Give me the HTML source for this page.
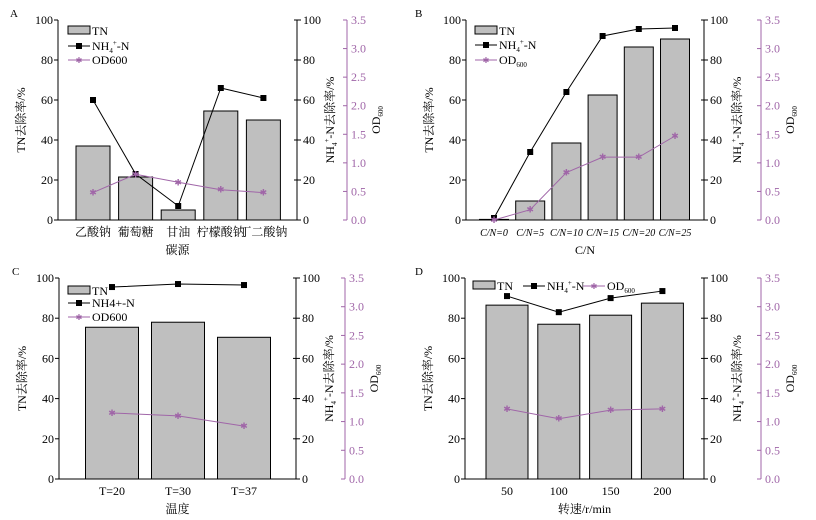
<!DOCTYPE html>
<html><head><meta charset="utf-8">
<style>
body{margin:0;background:#fff;}
svg{display:block;font-family:"Liberation Serif","Noto Serif CJK SC",serif;}
</style></head>
<body>
<svg id="fig" width="816" height="520" viewBox="0 0 816 520" xmlns="http://www.w3.org/2000/svg"></svg>
<script>
// Panel A
const catsA = ["乙酸钠","葡萄糖","甘油","柠檬酸钠","丁二酸钠"];
const tnA = [37, 21.5, 5, 54.5, 50];
const nhA = [60, 23, 7, 66, 61];
const odA = [0.48, 0.8, 0.66, 0.53, 0.48];
// Panel B
const catsB = ["C/N=0","C/N=5","C/N=10","C/N=15","C/N=20","C/N=25"];
const tnB = [0.3, 9.5, 38.5, 62.5, 86.5, 90.5];
const nhB = [1, 34, 64, 92, 95.5, 96];
const odB = [0, 0.18, 0.83, 1.1, 1.1, 1.47];
// Panel C
const catsC = ["T=20","T=30","T=37"];
const tnC = [75.5, 78, 70.5];
const nhC = [95.5, 97, 96.5];
const odC = [1.15, 1.1, 0.92];
// Panel D
const catsD = ["50","100","150","200"];
const tnD = [86.5, 77, 81.5, 87.5];
const nhD = [91, 83, 90, 93.5];
const odD = [1.22, 1.05, 1.2, 1.22];
// Axis ticks
const pctTicks = [0, 20, 40, 60, 80, 100];
const odTicks = [0, 0.5, 1.0, 1.5, 2.0, 2.5, 3.0, 3.5];

const NS = "http://www.w3.org/2000/svg";
const svg = document.getElementById("fig");
const PURPLE = "#a066a8";
function mk(tag, attrs, parent, text){
  const e = document.createElementNS(NS, tag);
  for (const k in attrs) e.setAttribute(k, attrs[k]);
  if (text !== undefined) e.textContent = text;
  (parent || svg).appendChild(e);
  return e;
}

function panel(cfg){
  const g = mk("g", {});
  
  
  const {L, R, OD, T, B, cats, tn, nh, od, barW} = cfg;
  const yP = v => B - (B - T) * v / 100;
  const yO = v => B - (B - T) * v / 3.5;
  const xC = i => cfg.xStart + i * cfg.xStep;
  const FS = 12;

  const lt = mk("text", {x: cfg.letterX, y: T - 3, "font-size": 11}, g, cfg.id);
  
  

  tn.forEach((v, i) => {
    const r = mk("rect", {x: xC(i) - barW/2, y: yP(v), width: barW, height: B - yP(v), fill: "#bfbfbf", stroke: "#000", "stroke-width": 1}, g);
    
    
  });

  const ax = mk("g", {stroke: "#000", "stroke-width": 1}, g);
  
  
  mk("line", {x1: L, y1: T, x2: L, y2: B}, ax);
  mk("line", {x1: L, y1: B, x2: R, y2: B}, ax);
  mk("line", {x1: R, y1: T, x2: R, y2: B}, ax);
  pctTicks.forEach(t => {
    mk("line", {x1: L - 4, y1: yP(t), x2: L, y2: yP(t)}, ax);
    mk("line", {x1: R - 3, y1: yP(t), x2: R + 4, y2: yP(t)}, ax);
    const a = mk("text", {x: L - 5, y: yP(t) + 4, "font-size": FS, "text-anchor": "end", stroke: "none"}, g, String(t));
    
    
    const b = mk("text", {x: R + 6, y: yP(t) + 4, "font-size": FS, stroke: "none"}, g, String(t));
    
    
  });
  mk("line", {x1: OD, y1: T, x2: OD, y2: B, stroke: PURPLE}, g);
  odTicks.forEach(t => {
    mk("line", {x1: OD - 4, y1: yO(t), x2: OD, y2: yO(t), stroke: PURPLE}, g);
    const o = mk("text", {x: OD + 4, y: yO(t) + 4, "font-size": FS, fill: PURPLE}, g, t.toFixed(1));
    
    
  });

  cats.forEach((c, i) => {
    const t = mk("text", {x: xC(i), y: B + 16, "font-size": cfg.catFont || 12, "text-anchor": "middle", "font-style": cfg.italic ? "italic" : "normal"}, g, c);
    
    
  });
  const xt = mk("text", {x: (L + R) / 2, y: B + 34, "font-size": 12, "text-anchor": "middle"}, g, cfg.xTitle);
  
  

  const yl = mk("text", {transform: `translate(${L - 33},${(T + B) / 2}) rotate(-90)`, "font-size": 12, "text-anchor": "middle"}, g, "TN去除率/%");
  
  
  const yr = mk("text", {transform: `translate(${R + 37},${(T + B) / 2}) rotate(-90)`, "font-size": 12, "text-anchor": "middle"}, g);
  
  
  mk("tspan", {}, yr, "NH");
  mk("tspan", {"font-size": 7, dy: 3}, yr, "4");
  mk("tspan", {"font-size": 7, dy: -8}, yr, "+");
  mk("tspan", {dy: 5}, yr, "-N去除率/%");
  const yo = mk("text", {transform: `translate(${OD + 33},${(T + B) / 2}) rotate(-90)`, "font-size": 12, "text-anchor": "middle"}, g);
  
  
  mk("tspan", {}, yo, "OD");
  mk("tspan", {"font-size": 7, dy: 3}, yo, "600");

  const nhPts = nh.map((v, i) => `${xC(i)},${yP(v)}`).join(" ");
  const nl = mk("polyline", {points: nhPts, fill: "none", stroke: "#000", "stroke-width": 1}, g);
  
  
  nh.forEach((v, i) => {
    const m = mk("rect", {x: xC(i) - 3, y: yP(v) - 3, width: 6, height: 6, fill: "#000"}, g);
    
    
  });
  const odPts = od.map((v, i) => `${xC(i)},${yO(v)}`).join(" ");
  const ol = mk("polyline", {points: odPts, fill: "none", stroke: PURPLE, "stroke-width": 1}, g);
  
  
  od.forEach((v, i) => {
    const m = mk("text", {x: xC(i), y: yO(v) + 3, "font-size": 9, fill: PURPLE, "text-anchor": "middle", "font-family": "DejaVu Sans"}, g, "✱");
    
    
  });

  const lg = mk("g", {}, g);
  
  
  cfg.legend.forEach(e => {
    if (e.k === "tn") {
      mk("rect", {x: e.x, y: e.y - 5, width: 22, height: 8, fill: "#bfbfbf", stroke: "#000"}, lg);
      mk("text", {x: e.x + 24, y: e.y + 4, "font-size": 12}, lg, "TN");
    } else if (e.k === "nh") {
      mk("line", {x1: e.x, y1: e.y, x2: e.x + 22, y2: e.y, stroke: "#000"}, lg);
      mk("rect", {x: e.x + 8, y: e.y - 3, width: 6, height: 6, fill: "#000"}, lg);
      const t = mk("text", {x: e.x + 24, y: e.y + 4, "font-size": 12}, lg);
      if (e.plain) t.textContent = "NH4+-N";
      else {
        mk("tspan", {}, t, "NH");
        mk("tspan", {"font-size": 7, dy: 3}, t, "4");
        mk("tspan", {"font-size": 7, dy: -8}, t, "+");
        mk("tspan", {dy: 5}, t, "-N");
      }
    } else {
      mk("line", {x1: e.x, y1: e.y, x2: e.x + 22, y2: e.y, stroke: PURPLE}, lg);
      mk("text", {x: e.x + 11, y: e.y + 3, "font-size": 8, fill: PURPLE, "text-anchor": "middle", "font-family": "DejaVu Sans"}, lg, "✱");
      const t = mk("text", {x: e.x + 24, y: e.y + 4, "font-size": 12}, lg);
      if (e.plain) t.textContent = "OD600";
      else {
        mk("tspan", {}, t, "OD");
        mk("tspan", {"font-size": 7, dy: 3}, t, "600");
      }
    }
  });
}

panel({id: "A", L: 58, R: 297, OD: 347, T: 20, B: 220, letterX: 10,
  cats: catsA, tn: tnA, nh: nhA, od: odA, barW: 34, xStart: 93, xStep: 42.6, xTitle: "碳源",
  legend: [{k: "tn", x: 68, y: 31}, {k: "nh", x: 68, y: 46, plain: false}, {k: "od", x: 68, y: 60, plain: true}]});
panel({id: "B", L: 466, R: 704, OD: 761, T: 20, B: 220, letterX: 415,
  cats: catsB, tn: tnB, nh: nhB, od: odB, barW: 29, xStart: 494, xStep: 36.2, xTitle: "C/N", catFont: 10, italic: true,
  legend: [{k: "tn", x: 475, y: 31}, {k: "nh", x: 475, y: 45, plain: false}, {k: "od", x: 475, y: 60, plain: false}]});
panel({id: "C", L: 59, R: 296, OD: 345, T: 278, B: 479, letterX: 12,
  cats: catsC, tn: tnC, nh: nhC, od: odC, barW: 53, xStart: 112, xStep: 66, xTitle: "温度",
  legend: [{k: "tn", x: 68, y: 291}, {k: "nh", x: 68, y: 303, plain: true}, {k: "od", x: 68, y: 317, plain: true}]});
panel({id: "D", L: 465, R: 704, OD: 761, T: 278, B: 479, letterX: 415,
  cats: catsD, tn: tnD, nh: nhD, od: odD, barW: 42, xStart: 507, xStep: 51.8, xTitle: "转速/r/min",
  legend: [{k: "tn", x: 473, y: 286}, {k: "nh", x: 523, y: 286, plain: false}, {k: "od", x: 583, y: 286, plain: false}]});
</script>
</body></html>
